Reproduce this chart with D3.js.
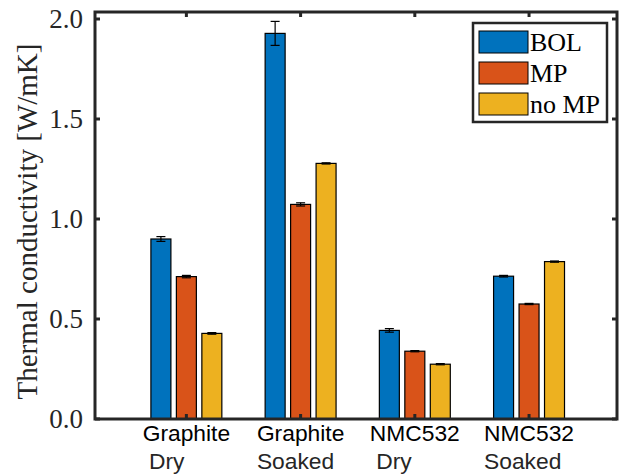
<!DOCTYPE html>
<html><head><meta charset="utf-8">
<script src="https://cdn.jsdelivr.net/npm/d3@7"></script>
<style>body{margin:0;background:#fff}</style>
</head><body>
<svg id="chart" width="622" height="475"></svg>
<script>
const categories = [["Graphite","Dry"],["Graphite","Soaked"],["NMC532","Dry"],["NMC532","Soaked"]];
const seriesNames = ["BOL","MP","no MP"];
const seriesColors = ["#0072BD","#D95319","#EDB120"];
const bolValues = [0.900, 1.928, 0.443, 0.714];
const mpValues = [0.712, 1.073, 0.339, 0.575];
const noMpValues = [0.428, 1.278, 0.274, 0.787];
const bolErr = [0.012, 0.06, 0.009, 0.004];
const mpErr = [0.006, 0.008, 0.003, 0.003];
const noMpErr = [0.004, 0.003, 0.003, 0.003];
const yTicks = [0, 0.5, 1.0, 1.5, 2.0];

const series = [bolValues, mpValues, noMpValues];
const errs = [bolErr, mpErr, noMpErr];

const svg = d3.select("#chart");
svg.append("rect").attr("width",622).attr("height",475).attr("fill","#fff");
const L = 95, R = 617, T = 12, B = 419;
const axisColor = "#262626";

const x = d3.scaleLinear().domain([0.2, 4.77]).range([L, R]);
const y = d3.scaleLinear().domain([0, 2.035]).range([B, T]);
const bw = 0.175, off = 0.223;

// bars
series.forEach((vals, s) => {
  const g = svg.append("g");
  vals.forEach((v, i) => {
    const cx = x(i + 1 + (s - 1) * off);
    const w = x(bw) - x(0);
    g.append("rect").attr("x", cx - w/2).attr("y", y(v)).attr("width", w).attr("height", y(0) - y(v))
      .attr("fill", seriesColors[s]).attr("stroke", "#000").attr("stroke-width", 1.2);
  });
});
// error bars
series.forEach((vals, s) => {
  vals.forEach((v, i) => {
    const cx = x(i + 1 + (s - 1) * off);
    const e = errs[s][i];
    const g = svg.append("g").attr("stroke", "#000").attr("stroke-width", 1.2);
    g.append("line").attr("x1", cx).attr("x2", cx).attr("y1", y(v + e)).attr("y2", y(v - e));
    g.append("line").attr("x1", cx - 4.5).attr("x2", cx + 4.5).attr("y1", y(v + e)).attr("y2", y(v + e));
    g.append("line").attr("x1", cx - 4.5).attr("x2", cx + 4.5).attr("y1", y(v - e)).attr("y2", y(v - e));
  });
});

// axes box
svg.append("rect").attr("x", L).attr("y", T).attr("width", R - L).attr("height", B - T)
  .attr("fill", "none").attr("stroke", axisColor).attr("stroke-width", 3);

// y ticks
const tl = 5;
yTicks.forEach(t => {
  svg.append("line").attr("x1", L).attr("x2", L + tl).attr("y1", y(t)).attr("y2", y(t)).attr("stroke", axisColor).attr("stroke-width", 3);
  svg.append("line").attr("x1", R).attr("x2", R - tl).attr("y1", y(t)).attr("y2", y(t)).attr("stroke", axisColor).attr("stroke-width", 3);
  svg.append("text").attr("x", 83).attr("y", y(t)).attr("dy", "0.35em").attr("text-anchor", "end")
    .attr("font-family", "'Liberation Serif','Times New Roman',serif").attr("font-size", 27).attr("fill", axisColor)
    .text(d3.format(".1f")(t));
});
// x ticks
categories.forEach((c, i) => {
  const cx = x(i + 1);
  svg.append("line").attr("x1", cx).attr("x2", cx).attr("y1", T).attr("y2", T + tl).attr("stroke", axisColor).attr("stroke-width", 3);
  svg.append("line").attr("x1", cx).attr("x2", cx).attr("y1", B).attr("y2", B - tl).attr("stroke", axisColor).attr("stroke-width", 3);
  const t1 = svg.append("text").attr("font-family", "'Liberation Sans',Arial,sans-serif").attr("font-size", 22.8)
    .attr("fill", "#000").attr("y", 441).text(c[0]);
  const w = t1.node().getComputedTextLength();
  t1.attr("x", cx - w/2);
  svg.append("text").attr("font-family", "'Liberation Sans',Arial,sans-serif").attr("font-size", 22.8)
    .attr("fill", "#262626").attr("x", cx - w/2).attr("y", 469)
    .text(c[1] === "Dry" ? "\u00A0" + c[1] : c[1]);
});

// y label
svg.append("text").attr("transform", "translate(37," + ((T + B) / 2 + 6) + ") rotate(-90)")
  .attr("text-anchor", "middle").attr("font-family", "'Liberation Serif','Times New Roman',serif")
  .attr("font-size", 29).attr("fill", axisColor).text("Thermal conductivity [W/mK]");

// legend
const lg = svg.append("g");
lg.append("rect").attr("x", 473).attr("y", 23).attr("width", 134).attr("height", 99)
  .attr("fill", "#fff").attr("stroke", axisColor).attr("stroke-width", 2.5);
seriesNames.forEach((n, s) => {
  const yy = 31 + s * 31;
  lg.append("rect").attr("x", 479).attr("y", yy).attr("width", 49).attr("height", 22)
    .attr("fill", seriesColors[s]).attr("stroke", "#000").attr("stroke-width", 1);
  lg.append("text").attr("x", 530).attr("y", yy + 20).attr("font-family", "'Liberation Serif','Times New Roman',serif")
    .attr("font-size", 26).attr("fill", "#000").text(n);
});
</script>
</body></html>
